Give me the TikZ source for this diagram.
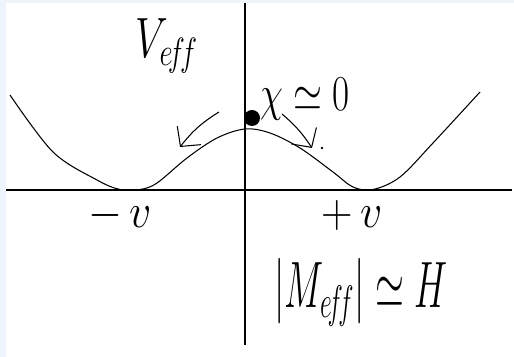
\documentclass[tikz,border=0pt]{standalone}
\usepackage{xcolor}
\usepackage{tikz}
\usetikzlibrary{arrows.meta,positioning,calc}
\definecolor{paneblue}{RGB}{238,244,252}

\begin{document}
\begin{tikzpicture}[x=0.02cm, y=-0.02cm,
  axis/.style={line width=0.7pt, black},
  pot/.style={line width=0.6pt, black},
  push/.style={-{Straight Barb[length=2.8mm, width=6mm]}, line width=0.6pt},
  lab/.style={inner sep=0pt, transform shape, font=\fontsize{26}{28}\selectfont}]
% frame
\fill[paneblue] (0,0) rectangle (514,357);
\fill[white] (6,3) rectangle (514,357);
\useasboundingbox (0,0) rectangle (514,357);
% axes
\coordinate (xl) at (6,190);
\coordinate (xr) at (512,190);
\coordinate (yt) at (245,3);
\coordinate (yb) at (245,345);
\draw[axis] (xl) -- (xr);
\draw[axis] (yt) -- (yb);
% double well
\draw[pot] plot[smooth, tension=0.55] coordinates {(10,95) (53,152) (97,180) (120,189.5) (140,189.5) (157,183) (187,158) (217,138) (245,129) (270,133) (300,148) (333,172) (353,187) (373,189.5) (400,177) (433,143) (480,92)};
% field at the top
\node[circle, fill=black, minimum size=0.32cm, inner sep=0pt] (ball) at (252,118) {};
\coordinate (lstart) at (219,112);
\coordinate (lend) at (180,147);
\coordinate (rstart) at (282,114);
\coordinate (rend) at (312,148);
\draw[push] (lstart) to[bend right=10] (lend);
\draw[push] (rstart) to[bend left=8] (rend);
\node[circle, fill=black, minimum size=1.5pt, inner sep=0pt] (dot) at (322,148) {};
% labels
\node[lab, xscale=0.95, yscale=1.3] (veff) at (167,46) {$V_{e\!f\!f}$};
\node[lab, xscale=0.85, yscale=1.15] (chi) at (305,99) {$\chi\simeq 0$};
\node[lab, yscale=1.1] (vneg) at (120,215) {$-\,v$};
\node[lab, yscale=1.1] (vpos) at (352,215) {$+\,v$};
\node[lab, xscale=0.85, yscale=1.5] (meff) at (361,292) {$|M_{e\!f\!f}|\simeq H$};
\end{tikzpicture}
\end{document}
